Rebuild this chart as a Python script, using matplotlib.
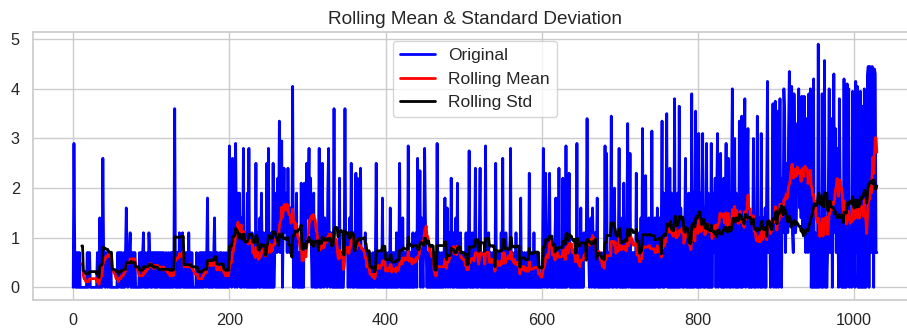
import numpy as np
import pandas as pd
import matplotlib
matplotlib.use("Agg")
import matplotlib.pyplot as plt
import seaborn as sns

# ---- data (log-scale counts) ----
seg_0000 = [0, 2.9, 0.7, 0, 0.7, 0, 0.7, 0, 0.7, 0,
            0, 0, 0, 0, 0, 0, 0, 0, 0.7, 0,
            0.7, 0.7, 0, 0, 0, 0, 0, 0, 0, 0,
            0, 0.7, 0, 0, 1.4, 0, 0.7, 0, 2.6, 0.7,
            0.7, 0, 0.7, 0.7, 0, 0.7, 0.7, 0, 0.7, 0]
seg_0050 = [0, 0, 0, 0, 0, 0, 0, 0.7, 0, 0.7,
            0.7, 0, 0.7, 0, 0, 0.7, 0, 0.7, 1.6, 0.7,
            0, 0.7, 0.7, 1.1, 0, 0.7, 0, 0.7, 0, 0.7,
            0, 0, 0, 0, 0, 0.7, 0, 0.7, 0, 0.7,
            1.1, 0, 0.7, 0, 0, 0.7, 0, 1.1, 0.7, 0]
seg_0100 = [0.7, 0, 0.7, 0.7, 0, 0.7, 0, 0.7, 0, 0.7,
            0.7, 0, 0.7, 0, 0.7, 0, 0.7, 0, 0, 0.7,
            0, 0, 0.7, 0, 0, 0.7, 0, 0.7, 0, 0.7,
            3.6, 0, 0.7, 0, 0.7, 0, 1.1, 0, 0, 0.7,
            1.1, 0, 0.7, 0, 0.7, 0, 0.7, 0, 1.1, 0]
seg_0150 = [0.7, 0, 0.7, 0, 0, 0, 0, 0, 0.7, 0,
            0, 0, 0.7, 0, 0.7, 0, 0.7, 0, 0.7, 0.7,
            0, 0.7, 1.8, 0, 0, 0.7, 0, 0.7, 0, 0,
            0.7, 1.4, 0, 0.7, 0, 0.7, 0, 0, 0.7, 0,
            0.7, 0, 0, 0.7, 0, 0, 0.7, 0, 0, 0]
seg_0200 = [2.85, 0.7, 1.1, 0, 2.6, 0.7, 1.9, 0, 2.9, 1.1,
            0, 1.9, 0.7, 1.9, 0, 1.4, 0, 0.7, 2.8, 0,
            1.1, 0.7, 0, 1.9, 0, 2.8, 0, 0.7, 0, 1.1,
            0, 0, 0.7, 0, 2.5, 0, 1.1, 0.7, 0, 1.4,
            0, 1.9, 0.7, 0, 1.1, 0, 0.7, 0, 2.5, 0]
seg_0250 = [2.8, 0, 0.7, 0, 1.1, 0, 2.5, 0, 0.7, 1.4,
            1.9, 0.7, 2.2, 1.1, 3.35, 0.7, 1.9, 2.95, 0, 1.4,
            2.4, 1.1, 1.1, 1.9, 0.7, 2.4, 1.1, 0.7, 1.6, 1.1,
            0.7, 4.05, 0, 0.7, 0, 1.1, 1.9, 0, 0, 0.7,
            0, 0, 2.1, 0, 0.7, 0, 2.1, 0.7, 1.1, 2.5]
seg_0300 = [1.4, 1.9, 2.8, 1.1, 2.2, 0.7, 0, 1.1, 1.9, 0,
            0.7, 0, 1.1, 0, 0.7, 2.8, 0, 1.1, 0, 2.5,
            0.7, 0, 1.4, 0.7, 1.1, 0, 1.9, 2.8, 0.7, 0,
            1.1, 0.7, 0, 0, 3.6, 0, 0.7, 0, 0, 0.7,
            0, 2.2, 0, 0, 0.7, 0, 0, 0.7, 3.6, 0.7]
seg_0350 = [0.7, 1.1, 0, 0.7, 1.4, 0, 2.5, 0.7, 0, 1.1,
            0, 0.7, 2.3, 0, 2.2, 0, 0.7, 0, 2.4, 0,
            0, 0.7, 0, 0, 1.1, 0, 0, 0.7, 0, 0,
            0.7, 0, 0, 0, 0.7, 0, 0, 0.7, 2.5, 0,
            0, 0.7, 0, 0, 0.7, 0, 1.8, 0, 0, 0.7]
seg_0400 = [0, 0.7, 0, 0, 0.7, 0, 1.6, 0, 0, 0.7,
            0, 0.7, 0, 0, 1.1, 0, 0, 0.7, 2.5, 0,
            0.7, 0, 1.4, 0, 0.7, 0, 0.7, 0, 0, 2.85,
            0, 0.7, 0, 0.7, 0, 1.1, 0, 0, 0.7, 1.1,
            0, 2.6, 0.7, 1.1, 2.35, 0, 1.4, 0.7, 0, 1.1]
seg_0450 = [2.8, 1.4, 0.7, 0, 0.7, 0, 0, 0.7, 0, 0,
            0.7, 0, 0, 0.7, 0, 0, 2.9, 0, 0, 0.7,
            0, 0, 0.7, 0, 0, 0.7, 1.8, 0, 0.7, 1.6,
            0, 0.7, 1.1, 0, 2.2, 0.7, 0, 1.1, 0, 0.7,
            1.4, 0, 2.1, 0, 0.7, 0, 1.1, 0, 0, 0.7]
seg_0500 = [0, 0.7, 0, 1.1, 0, 0, 0.7, 2.75, 0, 0.7,
            0, 1.1, 0, 0, 0.7, 2.4, 0, 0, 0.7, 0,
            1.1, 2.4, 0, 0.7, 0, 0, 0.7, 0, 2.85, 0,
            0.7, 0, 1.1, 0, 0.7, 0, 0, 0.7, 0, 0.7,
            0, 2.5, 0, 0.7, 0, 0, 0.7, 0, 1.1, 0]
seg_0550 = [2.6, 0, 0.7, 0, 1.1, 0.7, 0, 0.7, 0, 0,
            2.8, 0, 0.7, 0, 0, 0.7, 0, 1.1, 0, 0,
            0.7, 0, 0, 1.8, 0, 0.7, 0, 0, 0.7, 0,
            0, 0.7, 0, 0, 2.3, 0, 0, 0.7, 0, 0,
            1.1, 0, 0, 0.7, 0, 0, 0.7, 0, 0, 0]
seg_0600 = [0, 0.7, 2.8, 0, 0.7, 2.3, 0, 0.7, 0, 1.1,
            2.3, 0, 0.7, 0, 0, 0.7, 0, 1.1, 1.8, 0,
            0.7, 0, 2.4, 0, 0.7, 0, 0, 2.2, 0, 0.7,
            0, 2.85, 0, 1.1, 0.7, 2.3, 0, 0.7, 0, 0,
            0.7, 0, 0, 0.7, 0, 2.9, 0, 0.7, 0, 0]
seg_0650 = [1.6, 0, 0.7, 0, 1.1, 0.7, 0.7, 1.1, 3.4, 1.1,
            0.7, 0, 0.7, 1.4, 0, 1.6, 0.7, 0, 1.1, 0,
            0.7, 1.8, 0, 0.7, 0, 0, 0.7, 0, 0, 0.7,
            0, 2.85, 0, 2.7, 0, 0.7, 0, 0, 0.7, 3.45,
            0, 0.7, 0, 2.0, 0.7, 0, 1.1, 0, 0.7, 2.8]
seg_0700 = [0, 1.1, 0, 1.4, 0, 2.1, 0, 0.7, 0, 1.4,
            3.3, 0, 0.7, 2.7, 0, 0.7, 0, 0.7, 0, 0.7,
            0, 2.3, 0, 0.7, 0, 1.1, 0, 1.4, 0, 3.2,
            0, 1.1, 0, 2.25, 0, 0.7, 0, 1.4, 0, 0.7,
            0, 3.15, 0, 1.1, 0, 1.4, 0, 0.7, 1.6, 0]
seg_0750 = [0, 1.4, 0, 1.1, 3.35, 0, 1.9, 0, 0.7, 1.4,
            3.5, 0, 1.4, 0, 2.4, 0, 1.9, 0, 1.1, 0,
            3.8, 0, 1.4, 0, 1.9, 0, 3.65, 0, 1.6, 0.7,
            0, 1.4, 0, 1.1, 2.6, 0, 1.4, 0, 1.9, 0,
            0.7, 0, 3.9, 0, 1.9, 0, 1.4, 3.55, 0, 1.6]
seg_0800 = [0, 3.1, 0, 1.9, 0, 1.4, 3.1, 0, 1.6, 0,
            1.4, 2.9, 0, 1.9, 0, 1.1, 0, 2.9, 0, 1.9,
            0.7, 1.4, 2.2, 0, 1.9, 3.1, 0, 1.6, 2.2, 2.7,
            0, 1.9, 0, 2.2, 0, 1.4, 2.9, 0, 1.9, 2.6,
            0, 1.6, 0, 2.2, 4.0, 0, 1.4, 3.0, 0, 1.9]
seg_0850 = [0, 1.4, 0, 3.35, 1.1, 0, 3.45, 0, 1.4, 1.9,
            3.8, 0, 1.9, 2.2, 3.2, 0, 1.1, 0, 1.4, 0,
            0.7, 3.0, 0, 0.7, 0, 1.1, 3.45, 0, 0.7, 1.4,
            0, 3.1, 0, 1.1, 1.4, 0, 1.6, 0, 2.2, 4.15,
            0.7, 0.7, 1.1, 0, 0.7, 1.4, 3.7, 0, 1.1, 3.75]
seg_0900 = [0, 0.7, 3.55, 0, 1.4, 3.8, 0.7, 0, 2.2, 1.1,
            4.0, 3.5, 0.7, 1.6, 2.5, 1.1, 3.2, 4.35, 1.4, 2.2,
            4.05, 1.1, 0.7, 3.9, 2.4, 1.1, 1.4, 3.3, 1.9, 4.0,
            1.6, 2.8, 1.4, 3.85, 1.1, 1.9, 3.85, 2.2, 0.7, 3.4,
            1.6, 0.7, 3.9, 1.1, 4.0, 0, 0.7, 0, 4.2, 0]
seg_0950 = [1.1, 0, 0.7, 0, 4.9, 0, 0.7, 1.1, 0, 3.9,
            0, 0.7, 4.57, 0, 1.1, 0, 0.7, 2.2, 4.0, 0.7,
            1.4, 3.4, 0, 2.5, 4.3, 1.1, 3.2, 0.7, 2.8, 1.9,
            0, 3.8, 2.2, 1.4, 0, 0.7, 0, 4.2, 0, 1.1,
            0, 4.1, 0.7, 4.0, 0, 0.7, 1.1, 0, 3.95, 0.7]
seg_1000 = [1.4, 0, 4.15, 0.7, 4.05, 0, 0.7, 0, 3.95, 0,
            3.65, 0, 0, 4.0, 0, 0, 0.7, 4.25, 4.45, 0,
            4.45, 4.3, 0.7, 4.45, 4.2, 0, 4.4, 4.3, 0.7, 0.7]

window = 12
title = "Rolling Mean & Standard Deviation"
labels = ["Original", "Rolling Mean", "Rolling Std"]

segments = [seg_0000, seg_0050, seg_0100, seg_0150, seg_0200, seg_0250,
            seg_0300, seg_0350, seg_0400, seg_0450, seg_0500, seg_0550,
            seg_0600, seg_0650, seg_0700, seg_0750, seg_0800, seg_0850,
            seg_0900, seg_0950, seg_1000]
orig = pd.Series([v for s in segments for v in s], dtype=float)
rolmean = orig.rolling(window=window).mean()
rolstd = orig.rolling(window=window).std()

# ---- style ----
sns.set_style("whitegrid")
plt.rcParams["font.family"] = ["Liberation Sans", "DejaVu Sans"]
plt.rcParams["xtick.labelsize"] = 11.7
plt.rcParams["ytick.labelsize"] = 11.7
plt.rcParams["xtick.major.size"] = 6
plt.rcParams["ytick.major.size"] = 6

W, H = 907, 328
fig = plt.figure(figsize=(W / 100, H / 100), dpi=100)
left_px, right_px, top_px, bottom_px = 33, 917, 32, 299.5
ax = fig.add_axes([left_px / W, (H - bottom_px) / H,
                   (right_px - left_px) / W, (bottom_px - top_px) / H])

ax.plot(orig.index, orig.values, color="blue", lw=2.0, label=labels[0])
ax.plot(rolmean.index, rolmean.values, color="red", lw=2.0, label=labels[1])
ax.plot(rolstd.index, rolstd.values, color="black", lw=2.0, label=labels[2])

ax.set_xticks([0, 200, 400, 600, 800, 1000])
ax.set_yticks([0, 1, 2, 3, 4, 5])
for sp in ax.spines.values():
    sp.set_color("0.8")
    sp.set_linewidth(1.25)
ax.tick_params(colors="0.15", length=6, width=0, pad=3.5)
ax.grid(True, color="0.8", lw=1)

leg = ax.legend(loc="upper center", fontsize=12.5, frameon=True)
leg.get_frame().set_edgecolor("0.8")
ax.set_title(title, fontsize=13.7, color="0.15")

fig.savefig("out.png", dpi=100)
